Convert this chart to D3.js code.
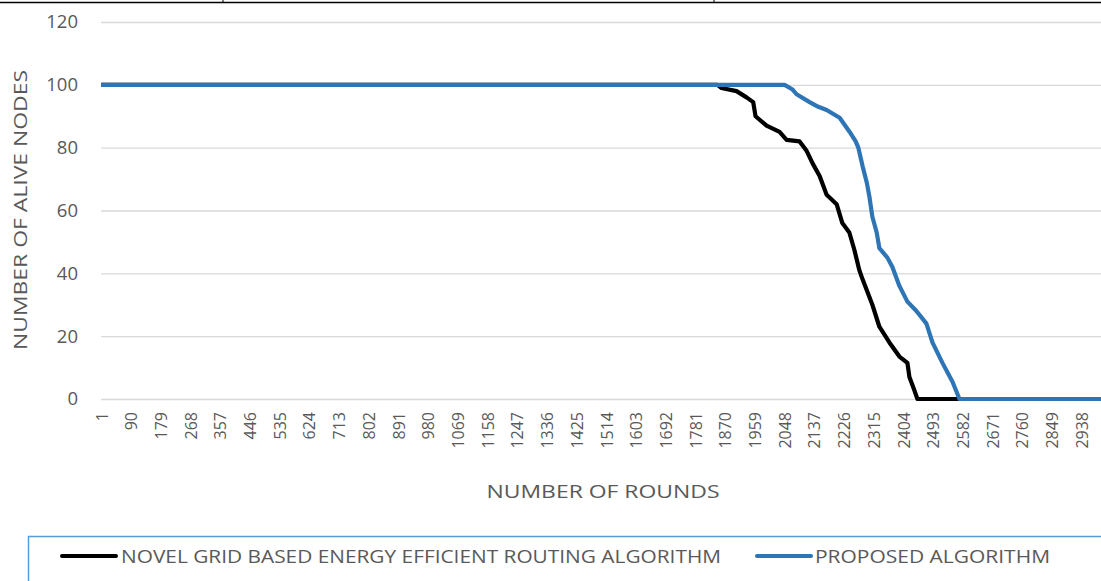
<!DOCTYPE html>
<html lang="en">
  <head>
    <meta charset="utf-8">
    <title>Alive nodes</title>
    <script src="https://d3js.org/d3.v7.js"></script>
    <style>
      body { margin: 0; background: #fff; }
      svg { display: block; }
    </style>
  </head>
  <body>
    <script>
  var w = 1101;
  var h = 581;
  var margin = {top: 22, right: 0, bottom: 182, left: 101};

  // data
  var xTicks = d3.range(1, 3000, 89);
  var yTicks = [0, 20, 40, 60, 80, 100, 120];
  var seriesNames = ["NOVEL GRID BASED ENERGY EFFICIENT ROUTING ALGORITHM", "PROPOSED ALGORITHM"];

  var gridRounds = [1, 1848, 1860, 1905, 1935, 1955, 1962, 1995, 2034, 2055, 2094, 2115, 2133, 2154, 2175, 2205, 2222, 2243, 2258, 2273, 2283, 2312, 2333, 2363, 2393, 2417, 2423, 2437, 2447, 3000];
  var gridNodes  = [100, 100, 99, 98, 96, 94.5, 90, 87, 85, 82.5, 82, 79, 75, 71, 65, 62, 56, 53, 47.5, 41, 38, 30, 23, 18, 13.5, 11.5, 7, 3, 0, 0];

  var propRounds = [1, 2049, 2073, 2085, 2124, 2150, 2175, 2214, 2244, 2262, 2270, 2283, 2295, 2303, 2312, 2325, 2333, 2357, 2372, 2393, 2417, 2444, 2474, 2492, 2522, 2552, 2573, 3000];
  var propNodes  = [100, 100, 98.5, 97, 94.5, 93, 92, 89.5, 85, 82, 80, 74, 69, 64.5, 58, 53, 48, 45, 42, 36, 31, 28, 24, 18, 11.5, 5.5, 0, 0];

  var colors = ["#000000", "#2e75b6"];
  var font = "'Open Sans', sans-serif";

  var svg = d3.select("body")
    .append("svg")
    .attr("width", w)
    .attr("height", h);

  var xScale = d3.scaleLinear()
    .domain([1, 3000])
    .range([margin.left, 1102]);

  var yScale = d3.scaleLinear()
    .domain([0, 120])
    .range([h - margin.bottom, margin.top]);

  // table border at the very top
  svg.append("line").attr("x1", 0).attr("x2", w).attr("y1", 2.5).attr("y2", 2.5)
    .attr("stroke", "#000").attr("stroke-width", 1.5);
  [223, 714].forEach(function (x) {
    svg.append("line").attr("x1", x).attr("x2", x).attr("y1", 0).attr("y2", 3)
      .attr("stroke", "#000").attr("stroke-width", 1);
  });

  // gridlines + y labels
  var yAxis = d3.axisLeft(yScale)
    .tickValues(yTicks)
    .tickSize(-(w - margin.left))
    .tickPadding(23);
  var gy = svg.append("g")
    .attr("transform", "translate(" + margin.left + ",0)")
    .call(yAxis);
  gy.select(".domain").remove();
  gy.selectAll(".tick line").attr("stroke", "#d9d9d9").attr("stroke-width", 1.3);
  gy.selectAll(".tick text")
    .attr("fill", "#595959")
    .style("font-family", font)
    .style("font-size", "18.5px");

  // x labels, rotated
  var xAxis = d3.axisBottom(xScale)
    .tickValues(xTicks)
    .tickFormat(d3.format("d"))
    .tickSize(0)
    .tickPadding(0);
  var gx = svg.append("g")
    .attr("transform", "translate(0," + yScale(0) + ")")
    .call(xAxis);
  gx.select(".domain").remove();
  gx.selectAll(".tick text")
    .attr("fill", "#595959")
    .style("font-family", font)
    .style("font-size", "16px")
    .attr("text-anchor", "end")
    .attr("dy", null)
    .attr("y", 0)
    .attr("transform", "translate(0,13) rotate(-90)")
    .attr("dominant-baseline", "central");

  // lines
  var line = d3.line()
    .x(function (d) { return xScale(d[0]); })
    .y(function (d) { return yScale(d[1]); });

  var series = [d3.zip(gridRounds, gridNodes), d3.zip(propRounds, propNodes)];

  svg.selectAll(".series")
    .data(series)
    .enter()
    .append("path")
    .attr("class", "series")
    .attr("d", line)
    .attr("fill", "none")
    .attr("stroke", function (d, i) { return colors[i]; })
    .attr("stroke-width", 4.2)
    .attr("stroke-linejoin", "round");

  // axis titles
  svg.append("text")
    .attr("x", 603)
    .attr("y", 498)
    .attr("text-anchor", "middle")
    .attr("fill", "#595959")
    .style("font-family", font)
    .style("font-size", "19px")
    .attr("textLength", 233)
    .attr("lengthAdjust", "spacingAndGlyphs")
    .text("NUMBER OF ROUNDS");

  svg.append("text")
    .attr("transform", "translate(27,210) rotate(-90)")
    .attr("text-anchor", "middle")
    .attr("fill", "#595959")
    .style("font-family", font)
    .style("font-size", "19px")
    .attr("textLength", 280)
    .attr("lengthAdjust", "spacingAndGlyphs")
    .text("NUMBER OF ALIVE NODES");

  // legend
  svg.append("rect")
    .attr("x", 28.5).attr("y", 536.5)
    .attr("width", 1090).attr("height", 60)
    .attr("fill", "none")
    .attr("stroke", "#5b9bd5")
    .attr("stroke-width", 1.5);

  var legendPos = [{lx: 62, tx: 121, tw: 600}, {lx: 757, tx: 815, tw: 235}];
  seriesNames.forEach(function (name, i) {
    svg.append("line")
      .attr("x1", legendPos[i].lx).attr("x2", legendPos[i].lx + 54)
      .attr("y1", 556).attr("y2", 556)
      .attr("stroke", colors[i]).attr("stroke-width", 4)
      .attr("stroke-linecap", "round");
    svg.append("text")
      .attr("x", legendPos[i].tx)
      .attr("y", 563)
      .attr("fill", "#595959")
      .style("font-family", font)
      .style("font-size", "18px")
      .attr("textLength", legendPos[i].tw)
      .attr("lengthAdjust", "spacingAndGlyphs")
      .text(name);
  });
    </script>
  </body>
</html>
